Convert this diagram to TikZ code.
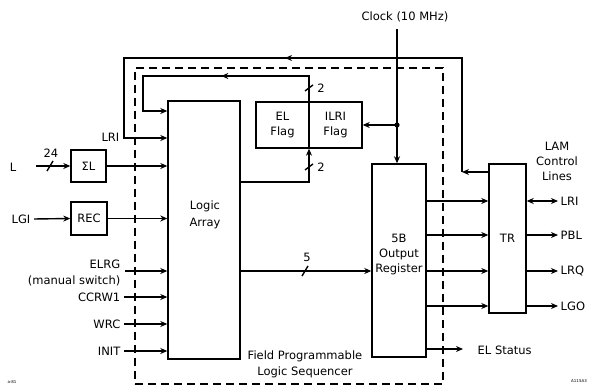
\documentclass[tikz,border=0pt]{standalone}
\usepackage{fontspec}
\setmainfont{DejaVu Sans}
\usetikzlibrary{arrows.meta,decorations.markings,calc}
\begin{document}
\begin{tikzpicture}[x=1pt,y=-1pt, line width=1.4pt,
  font=\fontsize{11.5}{15}\selectfont,
  box/.style={draw, rectangle, inner sep=0pt},
  arr/.style={-{Stealth[length=7pt,width=6pt]}},
  dbl/.style={{Stealth[length=7pt,width=6pt]}-{Stealth[length=7pt,width=6pt]}},
  lbl/.style={inner sep=0pt},
  midarrow/.style={postaction={decorate},decoration={markings, mark=at position #1 with {\arrow{Stealth[length=7pt,width=6pt]}}}},
  frame/.style={draw, dash pattern=on 8pt off 5pt, inner sep=0pt},
  corner/.style={inner sep=0pt, font=\fontsize{4}{4}\selectfont}
]
\useasboundingbox (0,0) rectangle (590,387);

% frame of the sequencer
\node[frame, minimum width=308pt, minimum height=316pt] (FPLS) at (289,226) {};
\node[lbl, align=center] (FPLSt) at (305,364) {Field Programmable\\[1pt]Logic Sequencer};

% blocks
\node[box, minimum width=72pt, minimum height=258pt] (LA) at (204,230) {};
\node[lbl, align=center] (LAt) at (205,215) {Logic\\[2pt]Array};
\node[box, minimum width=35pt, minimum height=32pt] (SL) at (88.5,166) {ΣL};
\node[box, minimum width=36pt, minimum height=33pt] (REC) at (89,218.5) {REC};
\node[box, minimum width=53pt, minimum height=46pt, align=center] (EL) at (282.5,125) {EL\\Flag};
\node[box, minimum width=53pt, minimum height=46pt, align=center] (ILRI) at (335.5,125) {ILRI\\Flag};
\node[box, minimum width=54pt, minimum height=193pt] (OR) at (399,260.5) {};
\node[lbl, align=center] (ORt) at (399,255) {5B\\Output\\Register};
\node[box, minimum width=37pt, minimum height=149pt] (TR) at (507.5,238.5) {TR};

% left inputs
\node[lbl] (Lt) at (13,167) {L};
\coordinate (Ls) at (36,166);
\draw[arr] (Ls) -- (SL.west);
\draw (47,171) -- (53,161);
\node[lbl] (n24) at (51,153) {24};
\draw[arr] (SL.east) -- (SL.east -| LA.west);

\node[lbl] (LGIt) at (21,219) {LGI};
\draw[arr] ([xshift=3pt]LGIt.east) -- (REC.west);
\draw[arr] (REC.east) -- (REC.east -| LA.west);

\node[lbl, anchor=east] (ELRGt) at (121,264) {ELRG};
\node[lbl, anchor=east] (MSt) at (121,281) {(manual switch)};
\coordinate (ELRGs) at (125,271);
\draw[arr] (ELRGs) -- (ELRGs -| LA.west);

\node[lbl, anchor=east] (CCt) at (121,297) {CCRW1};
\draw[arr] ([xshift=3pt]CCt.east) -- (CCt.east -| LA.west);
\node[lbl, anchor=east] (WRCt) at (121,324) {WRC};
\draw[arr] ([xshift=3pt]WRCt.east) -- (WRCt.east -| LA.west);
\node[lbl, anchor=east] (INITt) at (121,351) {INIT};
\draw[arr] ([xshift=3pt]INITt.east) -- (INITt.east -| LA.west);

\node[lbl, anchor=east] (LRIt) at (120,137) {LRI};

% outer feedback from TR
\coordinate (c1) at (462,172);
\coordinate (o1) at (462,58);
\coordinate (o2) at (124,58);
\coordinate (o3) at (124,138);
\draw[arr] (TR.west |- c1) -- (c1);
\draw[arr, midarrow=291pt] (c1) -- (o1) -- (o2) -- (o3) -- (o3 -| LA.west);

% inner feedback from flags
\coordinate (i1) at (309,76);
\coordinate (i2) at (143,76);
\coordinate (i3) at (143,111);
\draw[arr, midarrow=113pt, draw=black, line width=1.4pt] (EL.north -| i1) -- (i1) -- (i2) -- (i3) -- (i3 -| LA.west);
\draw (305,91) -- (313,85);
\node[lbl] (n2a) at (321,88) {2};

\coordinate (f1) at (309,182);
\draw[arr, draw=black, line width=1.4pt] (f1 -| LA.east) -- (f1) -- (EL.south -| f1);
\draw (305,170) -- (313,164);
\node[lbl] (n2b) at (321,167) {2};

% clock
\node[lbl] (CLK) at (405,17) {Clock (10 MHz)};
\coordinate (k0) at (397,29);
\coordinate (kd) at (397,125);
\draw[arr] (k0) -- (k0 |- OR.north);
\fill (kd) circle (2.6pt);
\draw[arr] (kd) -- (ILRI.east);

% logic array to output register
\coordinate (b5) at (305,271);
\draw[arr] (b5 -| LA.east) -- (b5 -| OR.west);
\draw (302,276) -- (308,266);
\node[lbl] (n5) at (307,257) {5};

% output register to TR
\foreach \yy in {201,235,271,306}{
  \draw[arr] (OR.east |- 0,\yy) -- (TR.west |- 0,\yy);
}

% TR outputs
\node[lbl, anchor=west] (oLRI) at (560,201) {LRI};
\node[lbl, anchor=west] (oPBL) at (560,235) {PBL};
\node[lbl, anchor=west] (oLRQ) at (560,271) {LRQ};
\node[lbl, anchor=west] (oLGO) at (560,306) {LGO};
\draw[dbl] (TR.east |- oLRI.west) -- ([xshift=-2pt]oLRI.west);
\draw[arr] (TR.east |- oPBL.west) -- ([xshift=-2pt]oPBL.west);
\draw[arr] (TR.east |- oLRQ.west) -- ([xshift=-2pt]oLRQ.west);
\draw[arr] (TR.east |- oLGO.west) -- ([xshift=-2pt]oLGO.west);
\node[lbl, align=center] (LAM) at (557,161) {LAM\\Control\\Lines};

% EL status
\node[lbl, anchor=west] (ELS) at (477,350) {EL Status};
\coordinate (es) at (463,349);
\draw[arr] (OR.east |- es) -- (es);

% corner marks
\node[corner] (cm1) at (12,382) {a-81};
\node[corner] (cm2) at (579,381) {A115A3};
\end{tikzpicture}
\end{document}
